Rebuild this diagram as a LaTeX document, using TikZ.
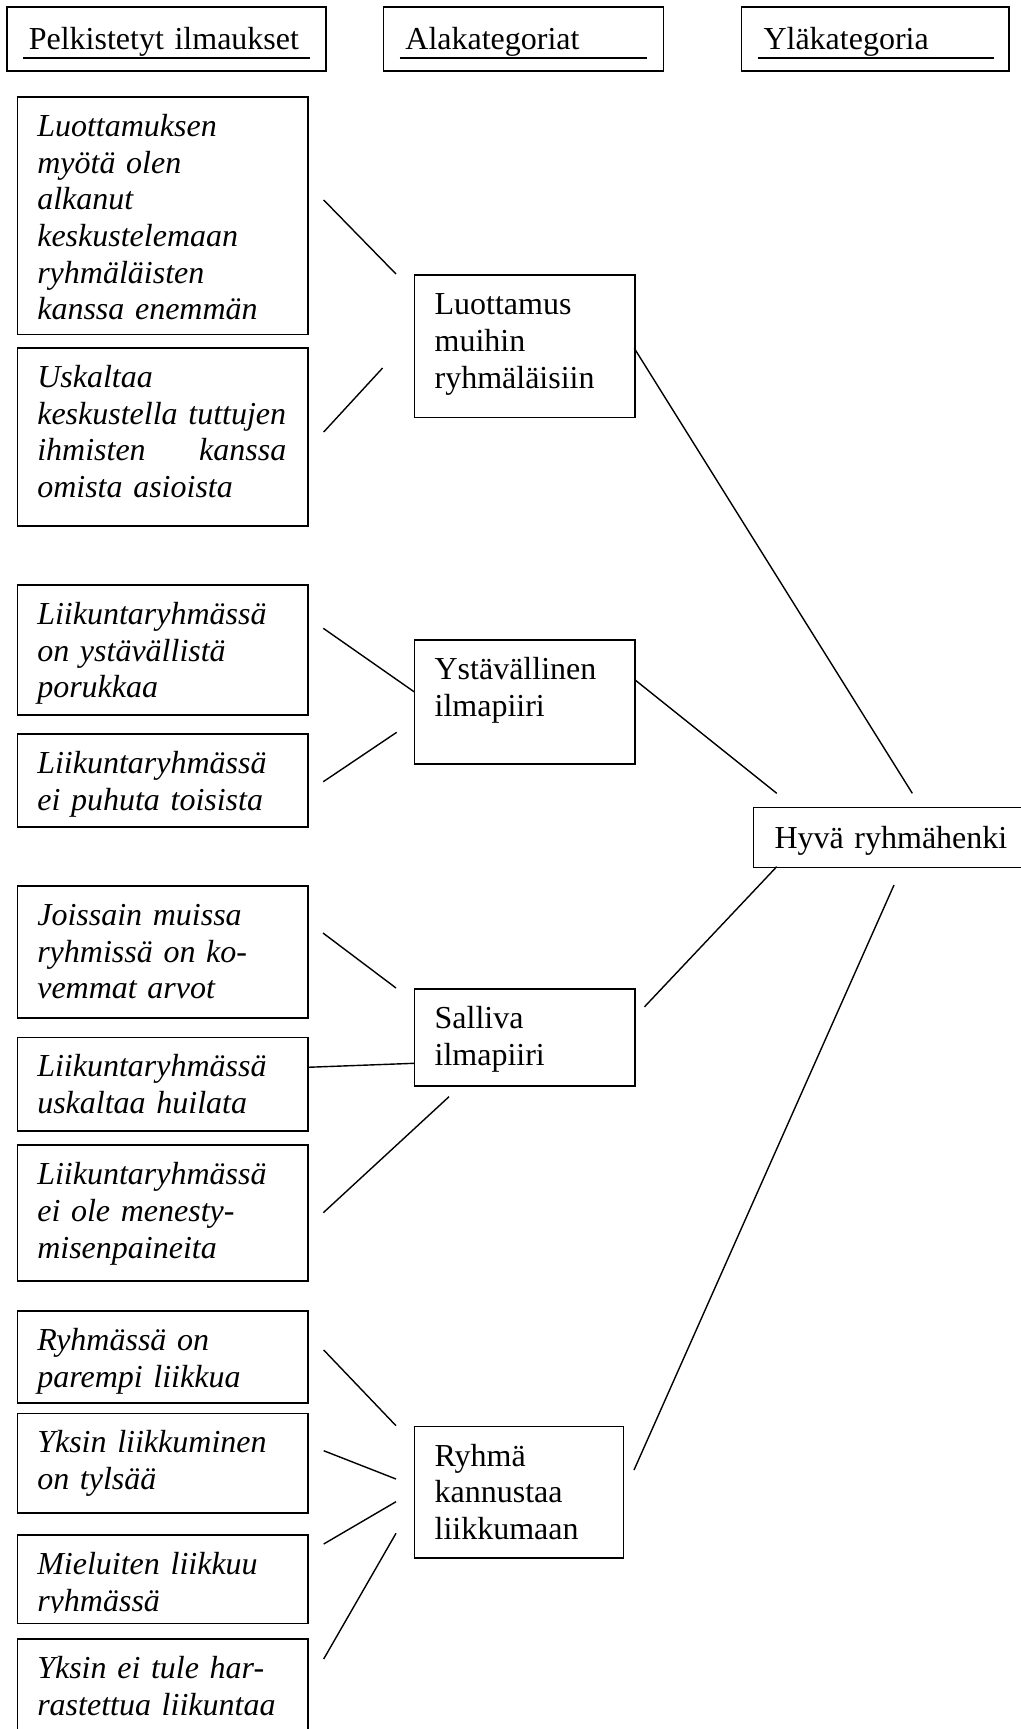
\documentclass[tikz,border=0pt]{standalone}
\usepackage{fontspec}
\setmainfont{Liberation Serif}
\usetikzlibrary{calc}
\newcommand{\bigfs}{\fontsize{32pt}{36.7pt}\selectfont}
\begin{document}
\begin{tikzpicture}[x=1pt,y=-1pt,
  every node/.style={font=\bigfs},
  hbox/.style={draw, line width=1.6pt, anchor=north west, inner xsep=22pt, inner ysep=0pt,
    align=left, text height=42.3pt, text depth=21.7pt},
  lbox/.style={draw, line width=1.6pt, anchor=north west, inner xsep=20pt, inner ysep=0pt,
    align=left, text width=250.5pt, text height=39.5pt, font=\bigfs\itshape},
  mbox/.style={draw, line width=1.6pt, anchor=north west, inner xsep=20pt, inner ysep=0pt,
    align=left, text width=180.5pt, text height=39.5pt},
  uline/.style={line width=2pt},
  link/.style={line width=1.4pt}]
\useasboundingbox (0,0) rectangle (1020,1729);

% headers
\node[hbox, text width=275pt] (h1) at (6,6) {Pelkistetyt ilmaukset};
\node[hbox, text width=236.1pt] (h2) at (382.6,6) {Alakategoriat};
\node[hbox, text width=223.6pt] (h3) at (740.7,6) {Yläkategoria};
\draw[uline] ($(h1.north west)+(17,51.7)$) -- ($(h1.north east)+(-17,51.7)$);
\draw[uline] ($(h2.north west)+(17,51.7)$) -- ($(h2.north east)+(-17,51.7)$);
\draw[uline] ($(h3.north west)+(17,51.7)$) -- ($(h3.north east)+(-16,51.7)$);

% left column
\node[lbox, text depth=198pt] (b1) at (16.5,96) {Luottamuksen\\myötä olen\\alkanut\\keskustelemaan\\ryhmäläisten\\kanssa enemmän};
\node[lbox, text depth=138.5pt] (b2) at (16.5,347) {Uskaltaa\\keskustella tuttujen\\\leavevmode\hbox to 249pt{ihmisten\hfill kanssa}\\omista asioista};
\node[lbox, text depth=90.5pt] (b3) at (16.5,584) {Liikuntaryhmässä\\on ystävällistä\\porukkaa};
\node[lbox, text depth=53.5pt] (b4) at (16.5,733) {Liikuntaryhmässä\\ei puhuta toisista};
\node[lbox, text depth=92.5pt] (b5) at (16.5,885) {Joissain muissa\\ryhmissä on ko-\\vemmat arvot};
\node[lbox, text depth=54pt] (b6) at (16.5,1036.5) {Liikuntaryhmässä\\uskaltaa huilata};
\node[lbox, text depth=96.2pt] (b7) at (16.5,1144.3) {Liikuntaryhmässä\\ei ole menesty-\\misenpaineita};
\node[lbox, text depth=52.5pt] (b8) at (16.5,1310) {Ryhmässä on\\parempi liikkua};
\node[lbox, text depth=59.9pt] (b9) at (16.5,1412.6) {Yksin liikkuminen\\on tylsää};
\begin{scope}
  \clip (0,1534) rectangle (330,1612);
  \node[lbox, draw=none, text depth=49.2pt] (b10t) at (16.5,1534) {Mieluiten liikkuu\\ryhmässä};
\end{scope}
\node[lbox, text depth=49.2pt] (b10) at (16.5,1534) {};
\node[lbox, text depth=150pt] (b11) at (16.5,1638) {Yksin ei tule har-\\rastettua liikuntaa};

% middle column
\node[mbox, text depth=102.9pt] (m1) at (413.8,274.3) {Luottamus\\muihin\\ryhmäläisiin};
\node[mbox, text depth=84.5pt] (m2) at (413.8,639.3) {Ystävällinen\\ilmapiiri};
\node[mbox, text depth=57.5pt] (m3) at (413.8,988) {Salliva\\ilmapiiri};
\node[mbox, text width=169pt, text depth=92.1pt] (m4) at (413.8,1425.7) {Ryhmä\\kannustaa\\liikkumaan};

% right
\node[hbox, inner xsep=21pt, text width=300pt, text height=41pt, text depth=19pt] (hy) at (752.7,806.7) {Hyvä ryhmähenki};

% connector end points
\coordinate (l1a) at (323.7,200);   \coordinate (l1b) at (396,274);
\coordinate (l2a) at (323.7,432);   \coordinate (l2b) at (382.6,368);
\coordinate (l3a) at (323.3,628.3); \coordinate (l3b) at (414,691.7);
\coordinate (l4a) at (323.3,781.7); \coordinate (l4b) at (396.7,732.3);
\coordinate (l5a) at (323,933);     \coordinate (l5b) at (396,988);
\coordinate (l6a) at (307.3,1067.3);\coordinate (l6b) at (414,1063.3);
\coordinate (l7a) at (323.3,1212.7);\coordinate (l7b) at (449,1096.7);
\coordinate (l8a) at (323.7,1350);  \coordinate (l8b) at (396,1425.7);
\coordinate (l9a) at (323.7,1450.7);\coordinate (l9b) at (396,1479);
\coordinate (l10a) at (323.7,1544); \coordinate (l10b) at (396,1501.7);
\coordinate (l11a) at (323.7,1659); \coordinate (l11b) at (396,1533.3);
\coordinate (r1a) at (634.3,348.3); \coordinate (r1b) at (912.3,793.3);
\coordinate (r2a) at (634.3,679.3); \coordinate (r2b) at (776.7,793.3);
\coordinate (r3a) at (644.5,1006.8);\coordinate (r3b) at (776.7,866.7);
\coordinate (r4a) at (634,1470);    \coordinate (r4b) at (894,885);

\draw[link] (l1a) -- (l1b);
\draw[link] (l2a) -- (l2b);
\draw[link] (l3a) -- (l3b);
\draw[link] (l4a) -- (l4b);
\draw[link] (l5a) -- (l5b);
\draw[link] (l6a) -- (l6b);
\draw[link] (l7a) -- (l7b);
\draw[link] (l8a) -- (l8b);
\draw[link] (l9a) -- (l9b);
\draw[link] (l10a) -- (l10b);
\draw[link] (l11a) -- (l11b);
\draw[link] (r1a) -- (r1b);
\draw[link] (r2a) -- (r2b);
\draw[link] (r3a) -- (r3b);
\draw[link] (r4a) -- (r4b);
\end{tikzpicture}
\end{document}
